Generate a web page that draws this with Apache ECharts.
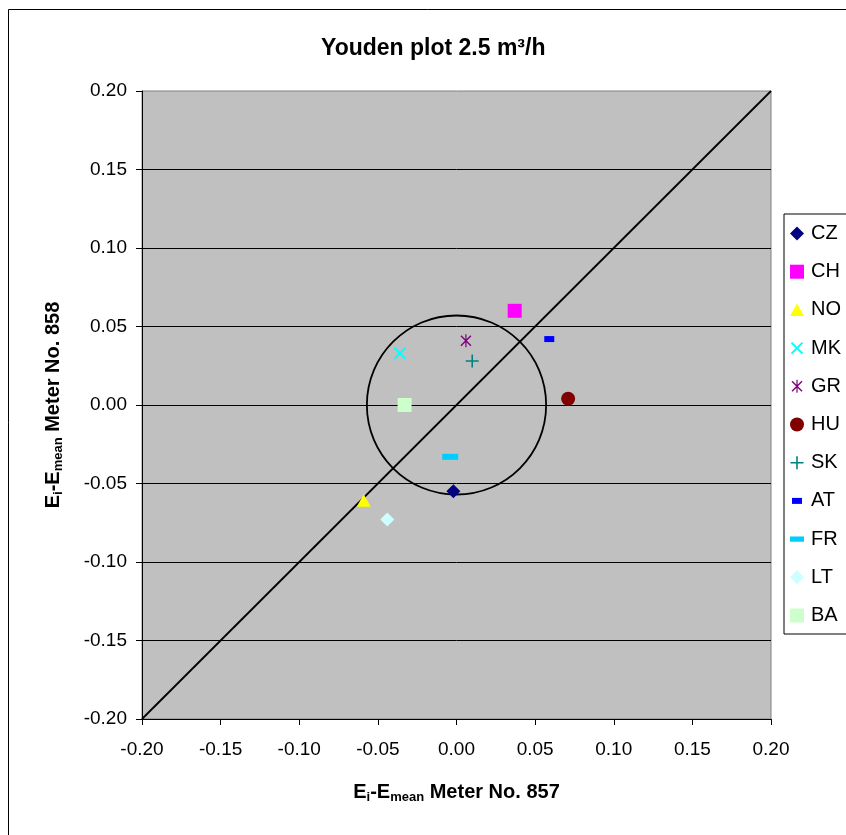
<!DOCTYPE html>
<html>
<head>
<meta charset="utf-8">
<title>Youden plot 2.5 m³/h</title>
<script src="https://cdn.jsdelivr.net/npm/echarts@6/dist/echarts.min.js"></script>
<style>
  html, body { margin: 0; padding: 0; background: #fff; }
  #chart { width: 846px; height: 835px; }
</style>
</head>
<body>
<div id="chart"></div>
<script>
// Laboratory codes and their deviations from the mean for the two meters
const labs    = ['CZ', 'CH', 'NO', 'MK', 'GR', 'HU', 'SK', 'AT', 'FR', 'LT', 'BA'];
const meter857 = [-0.002, 0.037, -0.059, -0.036, 0.006, 0.071, 0.010, 0.059, -0.004, -0.044, -0.033];
const meter858 = [-0.055, 0.060, -0.061, 0.033, 0.041, 0.004, 0.028, 0.042, -0.033, -0.073, 0.000];

// Axis range and tick step shared by both axes
const axisMin = -0.20;
const axisMax = 0.20;
const axisStep = 0.05;

// Reference ring around the origin and the 45° equality line
const ringCenter = [0, 0];
const ringRadius = 0.057;
const diagonal = [[axisMin, axisMin], [axisMax, axisMax]];

// Marker style for each laboratory
const labColors = ['#000080', '#FF00FF', '#FFFF00', '#00FFFF', '#800080', '#800000',
                   '#008080', '#0000FF', '#00CCFF', '#CCFFFF', '#CCFFCC'];
const FRAME = 'M0,0M14,14';
const labSymbols = [
  'path://M7,0L14,7L7,14L0,7Z',                                   // diamond
  'path://M0,0H14V14H0Z',                                         // square
  'path://' + FRAME + 'M7,0.5L14,13H0Z',                          // triangle
  'path://' + FRAME + 'M2.2,0.8L13.2,11.8L11.8,13.2L0.8,2.2Z M11.8,0.8L13.2,2.2L2.2,13.2L0.8,11.8Z', // x
  'path://' + FRAME + 'M2.5,1.5L12.5,11.5L11.5,12.5L1.5,2.5Z M11.5,1.5L12.5,2.5L2.5,12.5L1.5,11.5Z M6.4,0.5H7.6V13.5H6.4Z', // asterisk
  'path://M0,7A7,7,0,1,1,14,7A7,7,0,1,1,0,7Z',                    // circle
  'path://' + FRAME + 'M6.2,0.5H7.8V13.5H6.2Z M0.5,6.2H13.5V7.8H0.5Z', // plus
  'path://' + FRAME + 'M2,4H12V10H2Z',                            // short dash
  'path://M0,0M16,16M0,5H16V11H0Z',                               // long dash
  'path://M7,0L14,7L7,14L0,7Z',                                   // diamond
  'path://M0,0H14V14H0Z'                                          // square
];
const labSizes = [14, 14, 14, 14, 14, 14, 14, 14, 16, 14, 14];

const FONT = '"Liberation Sans", Arial, sans-serif';

function fmt(v) { return v.toFixed(2); }

function axisTitle(prefix) {
  return '{m|E}{s|i}{m|-E}{s|mean}{m| ' + prefix + '}';
}
const titleRich = {
  m: { fontFamily: FONT, fontSize: 20, fontWeight: 'bold', color: '#000', lineHeight: 22, verticalAlign: 'top' },
  s: { fontFamily: FONT, fontSize: 13, fontWeight: 'bold', color: '#000', lineHeight: 5, verticalAlign: 'bottom' }
};

const labSeries = labs.map((code, i) => ({
  name: code,
  type: 'scatter',
  data: [[meter857[i], meter858[i]]],
  symbol: labSymbols[i],
  symbolSize: labSizes[i],
  itemStyle: { color: labColors[i], opacity: 1 },
  z: 5,
  silent: true
}));

const chart = echarts.init(document.getElementById('chart'), null, { renderer: 'canvas' });

chart.setOption({
  animation: false,
  backgroundColor: '#fff',
  textStyle: { fontFamily: FONT },
  title: {
    text: 'Youden plot 2.5 m³/h',
    left: 316,
    top: 32,
    textStyle: { fontFamily: FONT, fontSize: 23, fontWeight: 'bold', color: '#000' }
  },
  graphic: [{
    type: 'rect',
    shape: { x: 8.5, y: 9.5, width: 900, height: 900 },
    style: { fill: 'none', stroke: '#000', lineWidth: 1 },
    silent: true,
    z: -10
  }],
  legend: {
    data: labs,
    orient: 'vertical',
    left: 784,
    top: 214,
    padding: [9.5, 60, 8.5, 6],
    itemWidth: 18,
    itemHeight: 14,
    itemGap: 18.2,
    backgroundColor: '#fff',
    borderColor: '#000',
    borderWidth: 1,
    selectedMode: false,
    textStyle: { fontFamily: FONT, fontSize: 20, lineHeight: 20, color: '#000' }
  },
  grid: {
    left: 142, right: 75, top: 91, bottom: 116,
    show: true,
    backgroundColor: '#C0C0C0',
    borderColor: '#808080',
    borderWidth: 1
  },
  xAxis: {
    type: 'value',
    min: axisMin, max: axisMax, interval: axisStep,
    name: axisTitle('Meter No. 857'),
    nameLocation: 'middle',
    nameGap: 63,
    nameTextStyle: { rich: titleRich },
    axisLine: { show: true, onZero: false, lineStyle: { color: '#000', width: 1 } },
    axisTick: { show: true, length: 6, lineStyle: { color: '#000' } },
    axisLabel: { formatter: fmt, fontFamily: FONT, fontSize: 19, color: '#000', margin: 21 },
    splitLine: { show: false }
  },
  yAxis: {
    type: 'value',
    min: axisMin, max: axisMax, interval: axisStep,
    name: axisTitle('Meter No. 858'),
    nameLocation: 'middle',
    nameRotate: 90,
    nameGap: 77,
    nameTextStyle: { rich: titleRich },
    axisLine: { show: true, onZero: false, lineStyle: { color: '#000', width: 1 } },
    axisTick: { show: true, length: 6, lineStyle: { color: '#000' } },
    axisLabel: { formatter: fmt, fontFamily: FONT, fontSize: 19, color: '#000', margin: 15 },
    splitLine: { show: true, showMinLine: false, showMaxLine: false, lineStyle: { color: '#000', width: 1 } }
  },
  series: [
    {
      name: 'equality',
      type: 'line',
      data: diagonal,
      symbol: 'none',
      lineStyle: { color: '#000', width: 1.8 },
      z: 3,
      silent: true
    },
    {
      name: 'ring',
      type: 'custom',
      data: [[ringCenter[0], ringCenter[1], ringRadius]],
      renderItem: function (params, api) {
        const c = api.coord([api.value(0), api.value(1)]);
        const s = api.size([api.value(2), api.value(2)]);
        return {
          type: 'ellipse',
          shape: { cx: c[0], cy: c[1], rx: s[0], ry: s[1] },
          style: { fill: 'none', stroke: '#000', lineWidth: 1.8 }
        };
      },
      z: 3,
      silent: true
    }
  ].concat(labSeries)
});
</script>
</body>
</html>
